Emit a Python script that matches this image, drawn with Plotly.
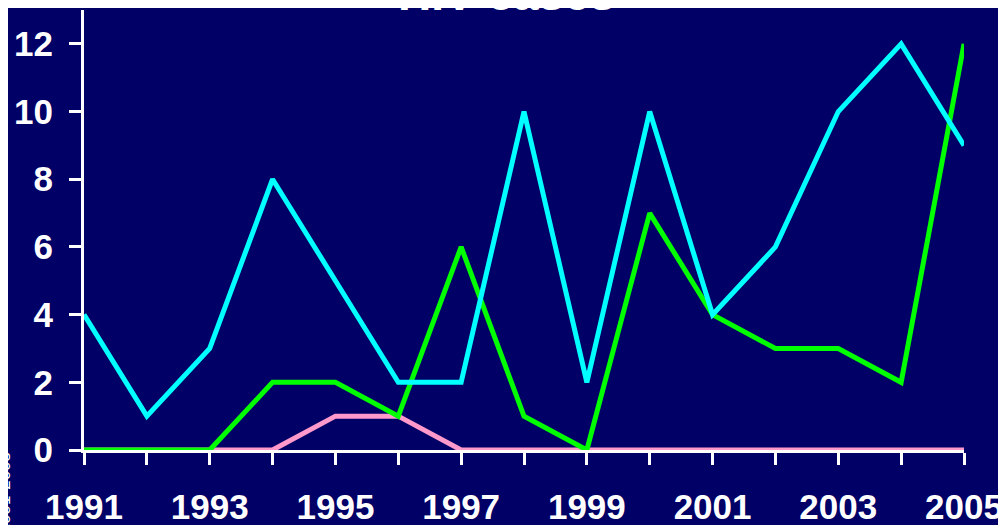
import plotly.graph_objects as go

years = list(range(1991, 2006))
cyan_cases = [4, 1, 3, 8, 5, 2, 2, 10, 2, 10, 4, 6, 10, 12, 9]
green_cases = [0, 0, 0, 2, 2, 1, 6, 1, 0, 7, 4, 3, 3, 2, 12]
pink_cases = [0, 0, 0, 0, 1, 1, 0, 0, 0, 0, 0, 0, 0, 0, 0]
year_labels = [str(y) if y % 2 == 1 else "" for y in years]
y_ticks = [0, 2, 4, 6, 8, 10, 12]

bg = "#000066"
font = "Liberation Sans"

fig = go.Figure()
for vals, color in [(pink_cases, "#FF99CC"), (green_cases, "#00FF00"), (cyan_cases, "#00FFFF")]:
    fig.add_trace(go.Scatter(x=years, y=vals, mode="lines",
                             line=dict(color=color, width=5), cliponaxis=False))

fig.update_layout(
    width=1006, height=525,
    margin=dict(l=76, r=50, t=2, b=83, autoexpand=False),
    paper_bgcolor=bg, plot_bgcolor=bg,
    showlegend=False,
    font=dict(family=font, color="white"),
    annotations=[
        dict(text="<b>HIV cases</b>", xref="paper", yref="paper", x=0.48, y=1.0,
             yshift=-12, xanchor="center", yanchor="bottom", showarrow=False,
             font=dict(size=46, color="white", family=font)),
        dict(text="1991-2005", xref="paper", yref="paper", x=-0.09, y=0,
             xanchor="center", yanchor="top", textangle=-90, showarrow=False,
             font=dict(size=17, color="white", family=font)),
    ],
)
fig.update_xaxes(
    range=[1991, 2005], tickvals=years, ticktext=year_labels, automargin=False,
    showgrid=False, zeroline=False, showline=True, linecolor="white", linewidth=3,
    ticks="outside", ticklen=12, tickwidth=3, tickcolor="white",
    tickfont=dict(size=35, color="white", family=font, weight="bold"), ticklabelstandoff=12,
)
fig.update_yaxes(
    range=[0, 13], tickvals=y_ticks, automargin=False,
    showgrid=False, zeroline=False, showline=True, linecolor="white", linewidth=3,
    ticks="outside", ticklen=12, tickwidth=3, tickcolor="white",
    tickfont=dict(size=35, color="white", family=font, weight="bold"), ticklabelstandoff=9,
)

fig.write_html("out.html")
